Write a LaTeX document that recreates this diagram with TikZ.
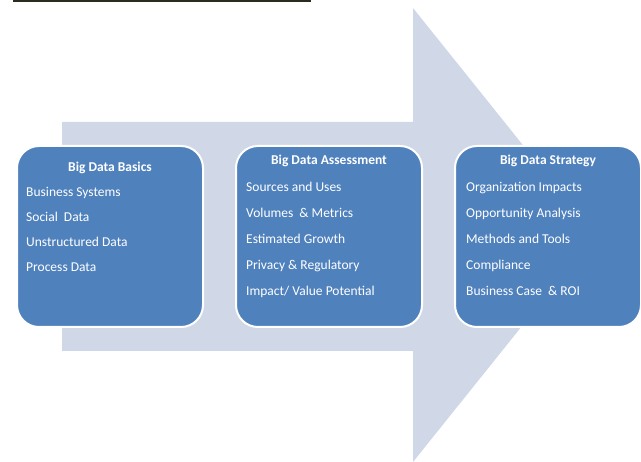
\documentclass[tikz,border=0pt]{standalone}
\usepackage{fontspec}
\setmainfont{Carlito}
\usetikzlibrary{positioning}
\definecolor{boxblue}{HTML}{4F81BD}
\definecolor{arrowgray}{HTML}{D0D8E8}
\definecolor{topline}{HTML}{2B2B1F}

\begin{document}
\begin{tikzpicture}[
    x=1pt, y=-1pt,
    node distance=31pt,
    stage/.style={rectangle, draw=white, line width=2pt, fill=boxblue, rounded corners=22pt, minimum width=186pt, minimum height=181pt},
    stagetitle/.style={font=\fontsize{13.5}{16}\selectfont\bfseries, text=white, inner sep=0pt},
    items/.style={font=\fontsize{13.5}{26}\selectfont, text=white, align=left, inner sep=0pt}
]
\useasboundingbox (0,0) rectangle (641,462);

\fill[topline] (13,0) rectangle (311,2);
\fill[arrowgray] (62,122) -- (413,122) -- (413,8) -- (595,235) -- (413,462) -- (413,351) -- (62,351) -- cycle;

\node[stage] (basics) at (110,236.5) {};
\node[stage, right=of basics] (assess) {};
\node[stage, right=of assess] (strategy) {};

\node[stagetitle, below=17pt of basics.north] (basicstitle) {Big Data Basics};
\node[stagetitle, below=10pt of assess.north] (assesstitle) {Big Data Assessment};
\node[stagetitle, below=10pt of strategy.north] (strategytitle) {Big Data Strategy};

\node[items, font=\fontsize{13.5}{25}\selectfont, below right=42pt and 10pt of basics.north west] (basicsitems) {Business Systems\\Social~ Data\\Unstructured Data\\Process Data};
\node[items, below right=37pt and 11pt of assess.north west] (assessitems) {Sources and Uses\\Volumes~ \& Metrics\\Estimated Growth\\Privacy \& Regulatory\\Impact/ Value Potential};
\node[items, below right=37pt and 12pt of strategy.north west] (strategyitems) {Organization Impacts\\Opportunity Analysis\\Methods and Tools\\Compliance\\Business Case~ \& ROI};

\end{tikzpicture}
\end{document}
